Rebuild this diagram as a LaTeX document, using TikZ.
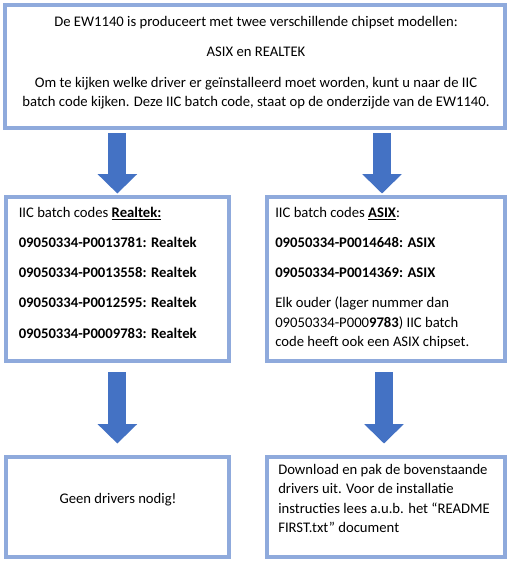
\documentclass[tikz,border=0pt]{standalone}
\usepackage{fontspec}
\setmainfont{Carlito}
\usetikzlibrary{positioning,arrows.meta,calc}
\definecolor{boxline}{HTML}{8FAADC}
\definecolor{arrowblue}{HTML}{4472C4}
\tikzset{
  infobox/.style={draw=boxline, line width=3pt, fill=white},
  boxtext/.style={inner sep=0pt, font=\fontsize{11}{14.6}\selectfont, anchor=north west, align=left},
  blockarrow/.style={arrowblue, line width=13.7pt, -{Triangle[length=14.5pt, width=28.7pt]}}
}

\begin{document}
\begin{tikzpicture}[x=0.75pt, y=-0.75pt]
  \useasboundingbox (0,0) rectangle (511,566);
  % boxes
  \node[infobox, minimum width=375pt, minimum height=91.9pt] (intro) at (255.3,66.25) {};
  \node[infobox, minimum width=167pt, minimum height=123.1pt] (realtek) at (117.35,278.8) {};
  \node[infobox, minimum width=178.5pt, minimum height=123.1pt] (asix) at (386,278.8) {};
  \node[infobox, minimum width=167pt, minimum height=75pt] (nodriver) at (117.35,507) {};
  \node[infobox, minimum width=178.5pt, minimum height=75pt] (download) at (386,507) {};
  % texts (first baseline about 10px under the top)
  \node[boxtext, anchor=north, align=center] (introtxt) at (256,16) {De EW1140 is produceert met twee verschillende chipset modellen:\\[8.2pt]
    ASIX en REALTEK\\[8.2pt]
    Om te kijken welke driver er geïnstalleerd moet worden, kunt u naar de IIC\\
    batch code kijken. Deze IIC batch code, staat op de onderzijde van de EW1140.};
  \node[boxtext] (realtektxt) at (18.5,207) {IIC batch codes \underline{\textbf{Realtek:}}\\[8pt]
    \textbf{09050334-P0013781: Realtek}\\[8pt]
    \textbf{09050334-P0013558: Realtek}\\[8pt]
    \textbf{09050334-P0012595: Realtek}\\[8pt]
    \textbf{09050334-P0009783: Realtek}};
  \node[boxtext] (asixtxt) at (275,207) {IIC batch codes \underline{\textbf{ASIX}}:\\[8pt]
    \textbf{09050334-P0014648: ASIX}\\[8pt]
    \textbf{09050334-P0014369: ASIX}\\[8pt]
    Elk ouder (lager nummer dan\\
    09050334-P000\textbf{9783}) IIC batch\\
    code heeft ook een ASIX chipset.};
  \node[boxtext, anchor=base] (nodrivertxt) at (118,503) {Geen drivers nodig!};
  \node[boxtext] (downloadtxt) at (278,464) {Download en pak de bovenstaande\\
    drivers uit. Voor de installatie\\
    instructies lees a.u.b. het “README\\
    FIRST.txt” document};
  % arrows
  \draw[blockarrow, shorten <=2.9pt, shorten >=0.9pt] (intro.south -| realtek.north) -- (realtek.north);
  \draw[blockarrow, shorten <=2.9pt, shorten >=0.9pt] ($(intro.south -| asix.north)+(-4,0)$) -- ($(asix.north)+(-4,0)$);
  \draw[blockarrow, shorten <=7.1pt, shorten >=8.6pt] (realtek.south) -- (nodriver.north);
  \draw[blockarrow, shorten <=7.1pt, shorten >=8.6pt] ($(asix.south)+(-2,0)$) -- ($(download.north)+(-2,0)$);
\end{tikzpicture}
\end{document}
